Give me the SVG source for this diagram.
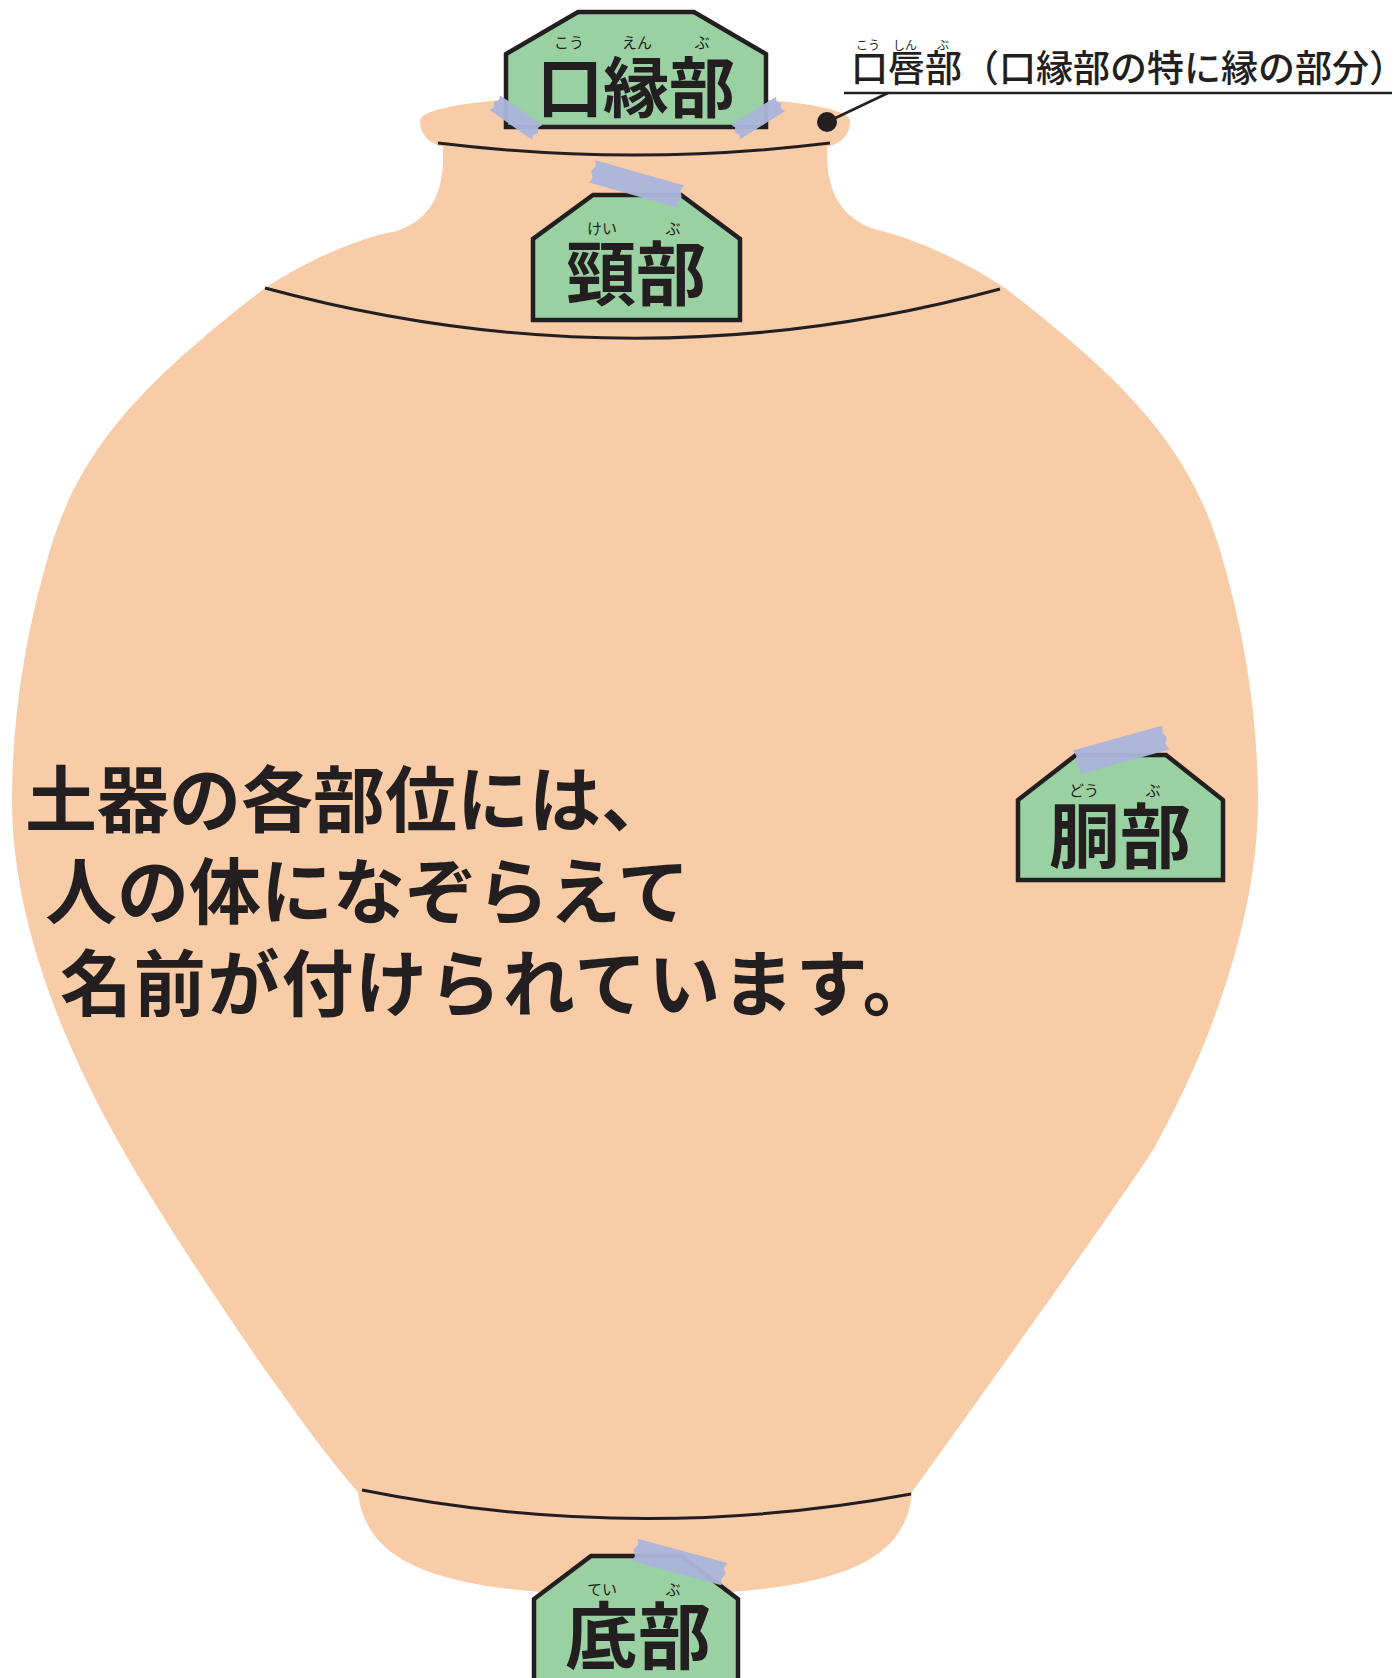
<svg xmlns="http://www.w3.org/2000/svg" width="1397" height="1678" viewBox="0 0 1397 1678">
  <style>
    .clay { fill: #F9CCA8; }
    .seam { fill: none; stroke: #231F20; stroke-width: 3; stroke-linecap: butt; }
    .plate { fill: #9AD1A2; stroke: #231F20; stroke-width: 4.5; stroke-linejoin: miter; }
    .tape { fill: #ABB5DB; opacity: 0.96; }
    .jp { font-family: "Noto Sans CJK JP", "Noto Sans CJK SC", sans-serif; fill: #231F20; }
    .label { font-weight: 700; text-anchor: middle; }
    .ruby { font-size: 15px; font-weight: 400; text-anchor: middle; }
    .lead { fill: none; stroke: #231F20; stroke-width: 2.5; }
  </style>

  <!-- vessel silhouette -->
  <g id="vessel">
    <path class="clay" d="M441,128 C447,175 442,215 397,231
      C365,236 310,258 265,288
      C140,384 80,450 50,550
      C25,633 12,720 12,800
      C12,920 63,1045 123,1150
      C180,1250 308,1437 358,1492
      C366,1565 440,1595 636,1595
      C832,1595 906,1565 912,1492
      C930,1468 1125,1195 1153,1150
      C1208,1052 1258,920 1258,800
      C1258,720 1245,633 1220,550
      C1190,450 1130,384 1005,288
      C960,258 907,236 877,230
      C830,215 823,175 829,128 Z"/>
    <path class="clay" d="M420,121 C420,104 520,95 635,95 C750,95 850,104 850,121 C850,136 840,143 830,146 L440,146 C428,142 420,134 420,121 Z"/>
    <path class="seam" d="M438,143 Q634,167 830,143"/>
    <path class="seam" d="M265,288 Q634,388 1000,289"/>
    <path class="seam" d="M362,1490 Q636,1545 911,1494"/>
  </g>

  <!-- pointer from the lip to its note -->
  <g id="connectors">
    <line class="lead" x1="827" y1="122" x2="888" y2="93"/>
    <circle cx="827" cy="122" r="10" fill="#231F20"/>
  </g>

  <!-- note for the lip -->
  <g id="lip-note">
    <line x1="844" y1="93" x2="1392" y2="93" stroke="#231F20" stroke-width="2.5"/>
    <text class="jp" x="851" y="82" font-size="37" font-weight="500">口唇部（口縁部の特に縁の部分）</text>
    <g class="jp" font-size="12" text-anchor="middle">
      <text x="868" y="50">こう</text>
      <text x="905" y="50">しん</text>
      <text x="943" y="50">ぶ</text>
    </g>
  </g>

  <!-- rim plate -->
  <g id="rim">
    <polygon class="plate" points="578,12 694,12 766,54 766,127 506,127 506,54"/>
    <text class="jp label" x="636" y="112" font-size="66">口縁部</text>
    <text class="jp ruby" x="569" y="48">こう</text>
    <text class="jp ruby" x="637" y="48">えん</text>
    <text class="jp ruby" x="702" y="48">ぶ</text>
    <path class="tape" transform="translate(516,117.5) rotate(35)" d="M-26,-9 H26 L24,-4.5 L27,0 L24,4.5 L26,9 H-26 L-24,4.5 L-27,0 L-24,-4.5 Z"/>
    <path class="tape" transform="translate(758,118) rotate(-32)" d="M-26.5,-8.5 H26.5 L24.5,-4 L27.5,0 L24.5,4 L26.5,8.5 H-26.5 L-24.5,4 L-27.5,0 L-24.5,-4 Z"/>
  </g>

  <!-- neck plate -->
  <g id="neck">
    <polygon class="plate" points="593,195 681,195 740,239 740,320 533,320 533,239"/>
    <text class="jp label" x="636" y="300" font-size="70">頸部</text>
    <text class="jp ruby" x="602" y="234">けい</text>
    <text class="jp ruby" x="673" y="234">ぶ</text>
    <path class="tape" transform="translate(636.5,184) rotate(16)" d="M-46,-11.5 H46 L44,-6 L47,0 L44,6 L46,11.5 H-46 L-44,6 L-47,0 L-44,-6 Z"/>
  </g>

  <!-- body plate -->
  <g id="body">
    <polygon class="plate" points="1076,755 1166,755 1223,800 1223,880 1018,880 1018,800"/>
    <text class="jp label" x="1120" y="862" font-size="71">胴部</text>
    <text class="jp ruby" x="1084" y="796">どう</text>
    <text class="jp ruby" x="1153" y="796">ぶ</text>
    <path class="tape" transform="translate(1121,750) rotate(-15.5)" d="M-46.5,-12.5 H46.5 L44.5,-6 L47.5,0 L44.5,6 L46.5,12.5 H-46.5 L-44.5,6 L-47.5,0 L-44.5,-6 Z"/>
  </g>

  <!-- base plate -->
  <g id="base">
    <polygon class="plate" points="591,1556 681,1556 738,1599 738,1690 534,1690 534,1599"/>
    <text class="jp label" x="638" y="1663" font-size="73">底部</text>
    <text class="jp ruby" x="602" y="1595">てい</text>
    <text class="jp ruby" x="673" y="1595">ぶ</text>
    <path class="tape" transform="translate(679.5,1562) rotate(15)" d="M-46.5,-11.5 H46.5 L44.5,-6 L47.5,0 L44.5,6 L46.5,11.5 H-46.5 L-44.5,6 L-47.5,0 L-44.5,-6 Z"/>
  </g>

  <!-- caption -->
  <g id="caption" class="jp" font-size="72" font-weight="700">
    <text x="25" y="826">土器の各部位には、</text>
    <text x="45" y="918">人の体になぞらえて</text>
    <text x="60" y="1010" letter-spacing="1.8">名前が付けられています。</text>
  </g>
</svg>
